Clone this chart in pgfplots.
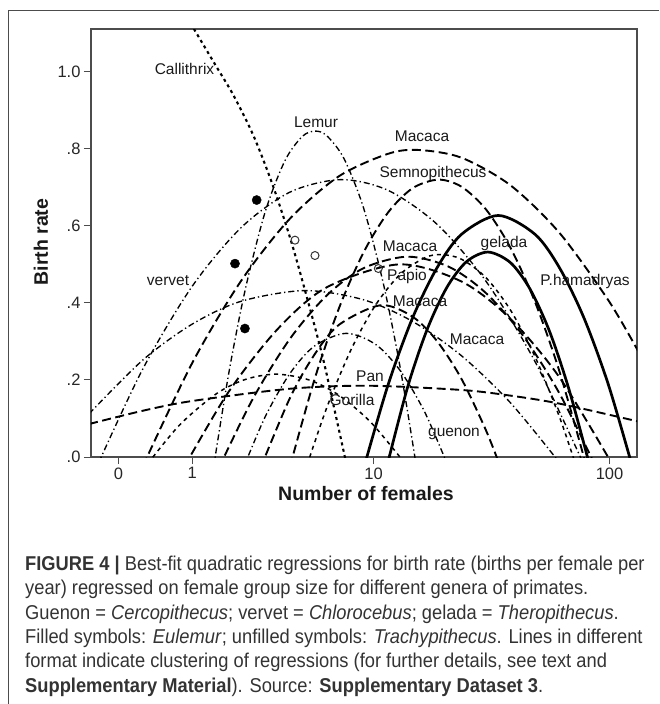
\documentclass[border=0pt]{standalone}
\usepackage{pgfplots}
\pgfplotsset{compat=1.18}
\usepackage{fontspec}
\setmainfont{Liberation Sans}
\newfontfamily\capfont[FakeStretch=0.915]{Liberation Sans}
\tikzset{
  longdash/.style={black, line width=1.9pt, dash pattern=on 9pt off 4.5pt, smooth},
  shortdash/.style={black, line width=1.5pt, dash pattern=on 4pt off 4pt, smooth},
  dashdot/.style={black, line width=1.35pt, dash pattern=on 6pt off 3pt on 1.3pt off 3pt, smooth},
  dotline/.style={black, line width=2.1pt, dash pattern=on 3pt off 3.5pt, smooth},
  solidline/.style={black, line width=2.7pt, smooth},
  lab/.style={font=\fontsize{15.5}{18}\selectfont, text=black!90, inner sep=0pt},
}
\begin{document}
\begin{tikzpicture}
\useasboundingbox (0pt,0pt) rectangle (659pt,-704pt);
\draw[black!70, line width=1.2pt] (8.3pt,-704pt) -- (8.3pt,-10.7pt) -- (659pt,-10.7pt);
\begin{axis}[
  at={(91pt,-457pt)}, anchor=south west,
  scale only axis, width=546pt, height=428pt,
  xmin=-0.1122, xmax=2.1163, ymin=0, ymax=1.111,
  axis line style={draw=black!70, line width=1.1pt},
  tick align=outside, major tick length=7pt,
  tick style={draw=black!70, line width=1pt},
  xtick={0,0.30103,1.04139,2.00432}, xticklabels={0,1,10,100},
  ytick={0,0.2,0.4,0.6,0.8,1.0}, yticklabels={.0,.2,.4,.6,.8,1.0},
  xtick pos=left, ytick pos=left,
  ticklabel style={font=\fontsize{16.5}{18}\selectfont, text=black!85},
  clip=true,
]
% Callithrix
\addplot[dotline] coordinates {(0.28,1.14) (0.308,1.111) (0.398,1.015) (0.471,0.937) (0.553,0.831) (0.631,0.703) (0.707,0.555) (0.782,0.384) (0.835,0.255) (0.876,0.139) (0.924,0.0) (0.94,-0.05)};
% Lemur
\addplot[dashdot] coordinates {(0.38,-0.059) (0.45,0.217) (0.52,0.442) (0.60,0.639) (0.68,0.770) (0.75,0.832) (0.802,0.846) (0.85,0.834) (0.92,0.775) (1.00,0.647) (1.08,0.453) (1.15,0.231) (1.22,-0.041)};
% vervet
\addplot[dashdot] coordinates {(-0.08,-0.0135) (0.10,0.2295) (0.30,0.4424) (0.50,0.5951) (0.70,0.6876) (0.9076,0.72) (1.10,0.6922) (1.30,0.6042) (1.50,0.4561) (1.70,0.2478) (1.90,-0.0207)};
% dash-dot wide low arc
\addplot[dashdot] coordinates {(-0.12,0.1122) (0.10,0.2521) (0.30,0.3446) (0.50,0.4041) (0.76,0.432) (1.00,0.4082) (1.20,0.352) (1.40,0.2628) (1.60,0.1406) (1.80,-0.0147)};
% guenon
\addplot[dashdot] coordinates {(0.51,-0.028) (0.60,0.106) (0.70,0.217) (0.80,0.288) (0.929,0.321) (1.05,0.292) (1.15,0.224) (1.25,0.1164) (1.35,-0.031)};
% Macaca (top)
\addplot[longdash] coordinates {(0.10,-0.023) (0.30,0.2429) (0.50,0.4568) (0.70,0.6188) (0.90,0.7289) (1.10,0.787) (1.224,0.797) (1.40,0.7769) (1.60,0.7052) (1.80,0.5817) (2.00,0.4062) (2.12,0.276)};
% Semnopithecus
\addplot[longdash] coordinates {(0.70,-0.0245) (0.80,0.2013) (0.90,0.3864) (1.00,0.5308) (1.10,0.6345) (1.20,0.6976) (1.305,0.72) (1.40,0.7016) (1.50,0.6427) (1.60,0.543) (1.70,0.4026) (1.80,0.2216) (1.91,-0.0245)};
% Macaca (second)
\addplot[longdash] coordinates {(0.41,-0.028) (0.55,0.153) (0.70,0.307) (0.85,0.4194) (1.00,0.4901) (1.18,0.52) (1.35,0.4933) (1.50,0.4254) (1.65,0.3159) (1.80,0.1648) (1.95,-0.028)};
% Papio
\addplot[longdash] coordinates {(0.27,-0.024) (0.45,0.1696) (0.65,0.3324) (0.85,0.4405) (1.145,0.50) (1.40,0.4555) (1.60,0.3584) (1.80,0.2066) (2.02,-0.024)};
% Macaca (third)
\addplot[longdash] coordinates {(0.58,-0.028) (0.70,0.1535) (0.80,0.2659) (0.90,0.3432) (1.07,0.394) (1.20,0.3643) (1.30,0.301) (1.40,0.2027) (1.50,0.0691) (1.56,-0.028)};
% Pan
\addplot[longdash] coordinates {(-0.12,0.0856) (0.10,0.1202) (0.30,0.1453) (0.70,0.1772) (1.02,0.185) (1.40,0.174) (1.60,0.1593) (1.80,0.1385) (2.12,0.0924)};
% Gorilla
\addplot[shortdash] coordinates {(0.12,-0.017) (0.25,0.0835) (0.40,0.1644) (0.52,0.2018) (0.645,0.215) (0.78,0.1996) (0.90,0.1602) (1.03,0.09) (1.17,-0.017)};
% extra short-dash arc
\addplot[shortdash] coordinates {(0.76,-0.04) (0.85,0.128) (0.95,0.2797) (1.05,0.3952) (1.15,0.4744) (1.25,0.5172) (1.318,0.5256) (1.40,0.5134) (1.50,0.4655) (1.60,0.3812) (1.70,0.2606) (1.80,0.1037) (1.87,-0.028)};
% P.hamadryas
\addplot[solidline] coordinates {(1.00,-0.031) (1.10,0.1868) (1.20,0.3607) (1.30,0.4911) (1.40,0.5781) (1.55,0.627) (1.70,0.5781) (1.80,0.4911) (1.90,0.3607) (2.00,0.1868) (2.10,-0.031)};
% gelada
\addplot[solidline] coordinates {(1.09,-0.038) (1.18,0.1813) (1.26,0.3315) (1.34,0.44) (1.42,0.5068) (1.508,0.532) (1.60,0.5044) (1.68,0.4356) (1.76,0.325) (1.84,0.1727) (1.93,-0.0385)};
% Eulemur (filled)
\addplot[only marks, mark=*, mark size=4.6pt, black] coordinates {(0.564,0.667) (0.4755,0.502) (0.516,0.3335)};
% Trachypithecus (unfilled)
\addplot[only marks, mark=o, mark size=4pt, black!80, mark options={line width=1pt}] coordinates {(0.7204,0.5629) (0.802,0.523) (1.0606,0.4893)};
\end{axis}
% curve labels
\node[lab] at (184.5pt,-69pt) {Callithrix};
\node[lab] at (316pt,-122pt) {Lemur};
\node[lab] at (422pt,-136pt) {Macaca};
\node[lab] at (433pt,-173pt) {Semnopithecus};
\node[lab] at (168pt,-281pt) {vervet};
\node[lab] at (410pt,-246pt) {Macaca};
\node[lab] at (504pt,-243pt) {gelada};
\node[lab] at (407pt,-276pt) {Papio};
\node[lab] at (585pt,-281pt) {P.hamadryas};
\node[lab] at (420pt,-301pt) {Macaca};
\node[lab] at (477pt,-339pt) {Macaca};
\node[lab] at (370pt,-376pt) {Pan};
\node[lab] at (352pt,-400pt) {Gorilla};
\node[lab] at (454pt,-434pt) {guenon};
% axis titles
\node[font=\bfseries\fontsize{19.5}{22}\selectfont, text=black!90] at (366pt,-494pt) {Number of females};
\node[font=\bfseries\fontsize{19.5}{22}\selectfont, text=black!90, rotate=90] at (41pt,-242pt) {Birth rate};
% caption
\begin{scope}[every node/.style={anchor=base west, inner sep=0pt, font=\capfont\fontsize{20}{24}\selectfont, text=black!80}]
\node at (25pt,-570pt) {\textbf{FIGURE 4 |} Best-fit quadratic regressions for birth rate (births per female per};
\node at (25pt,-594.5pt) {year) regressed on female group size for different genera of primates.};
\node at (25pt,-619pt) {Guenon = \textit{Cercopithecus}; vervet = \textit{Chlorocebus}; gelada = \textit{Theropithecus}.};
\node at (25pt,-643pt) {Filled symbols: \textit{Eulemur}; unfilled symbols: \textit{Trachypithecus}. Lines in different};
\node at (25pt,-667.5pt) {format indicate clustering of regressions (for further details, see text and};
\node at (25pt,-692pt) {\textbf{Supplementary Material}). Source: \textbf{Supplementary Dataset 3}.};
\end{scope}
\end{tikzpicture}
\end{document}
